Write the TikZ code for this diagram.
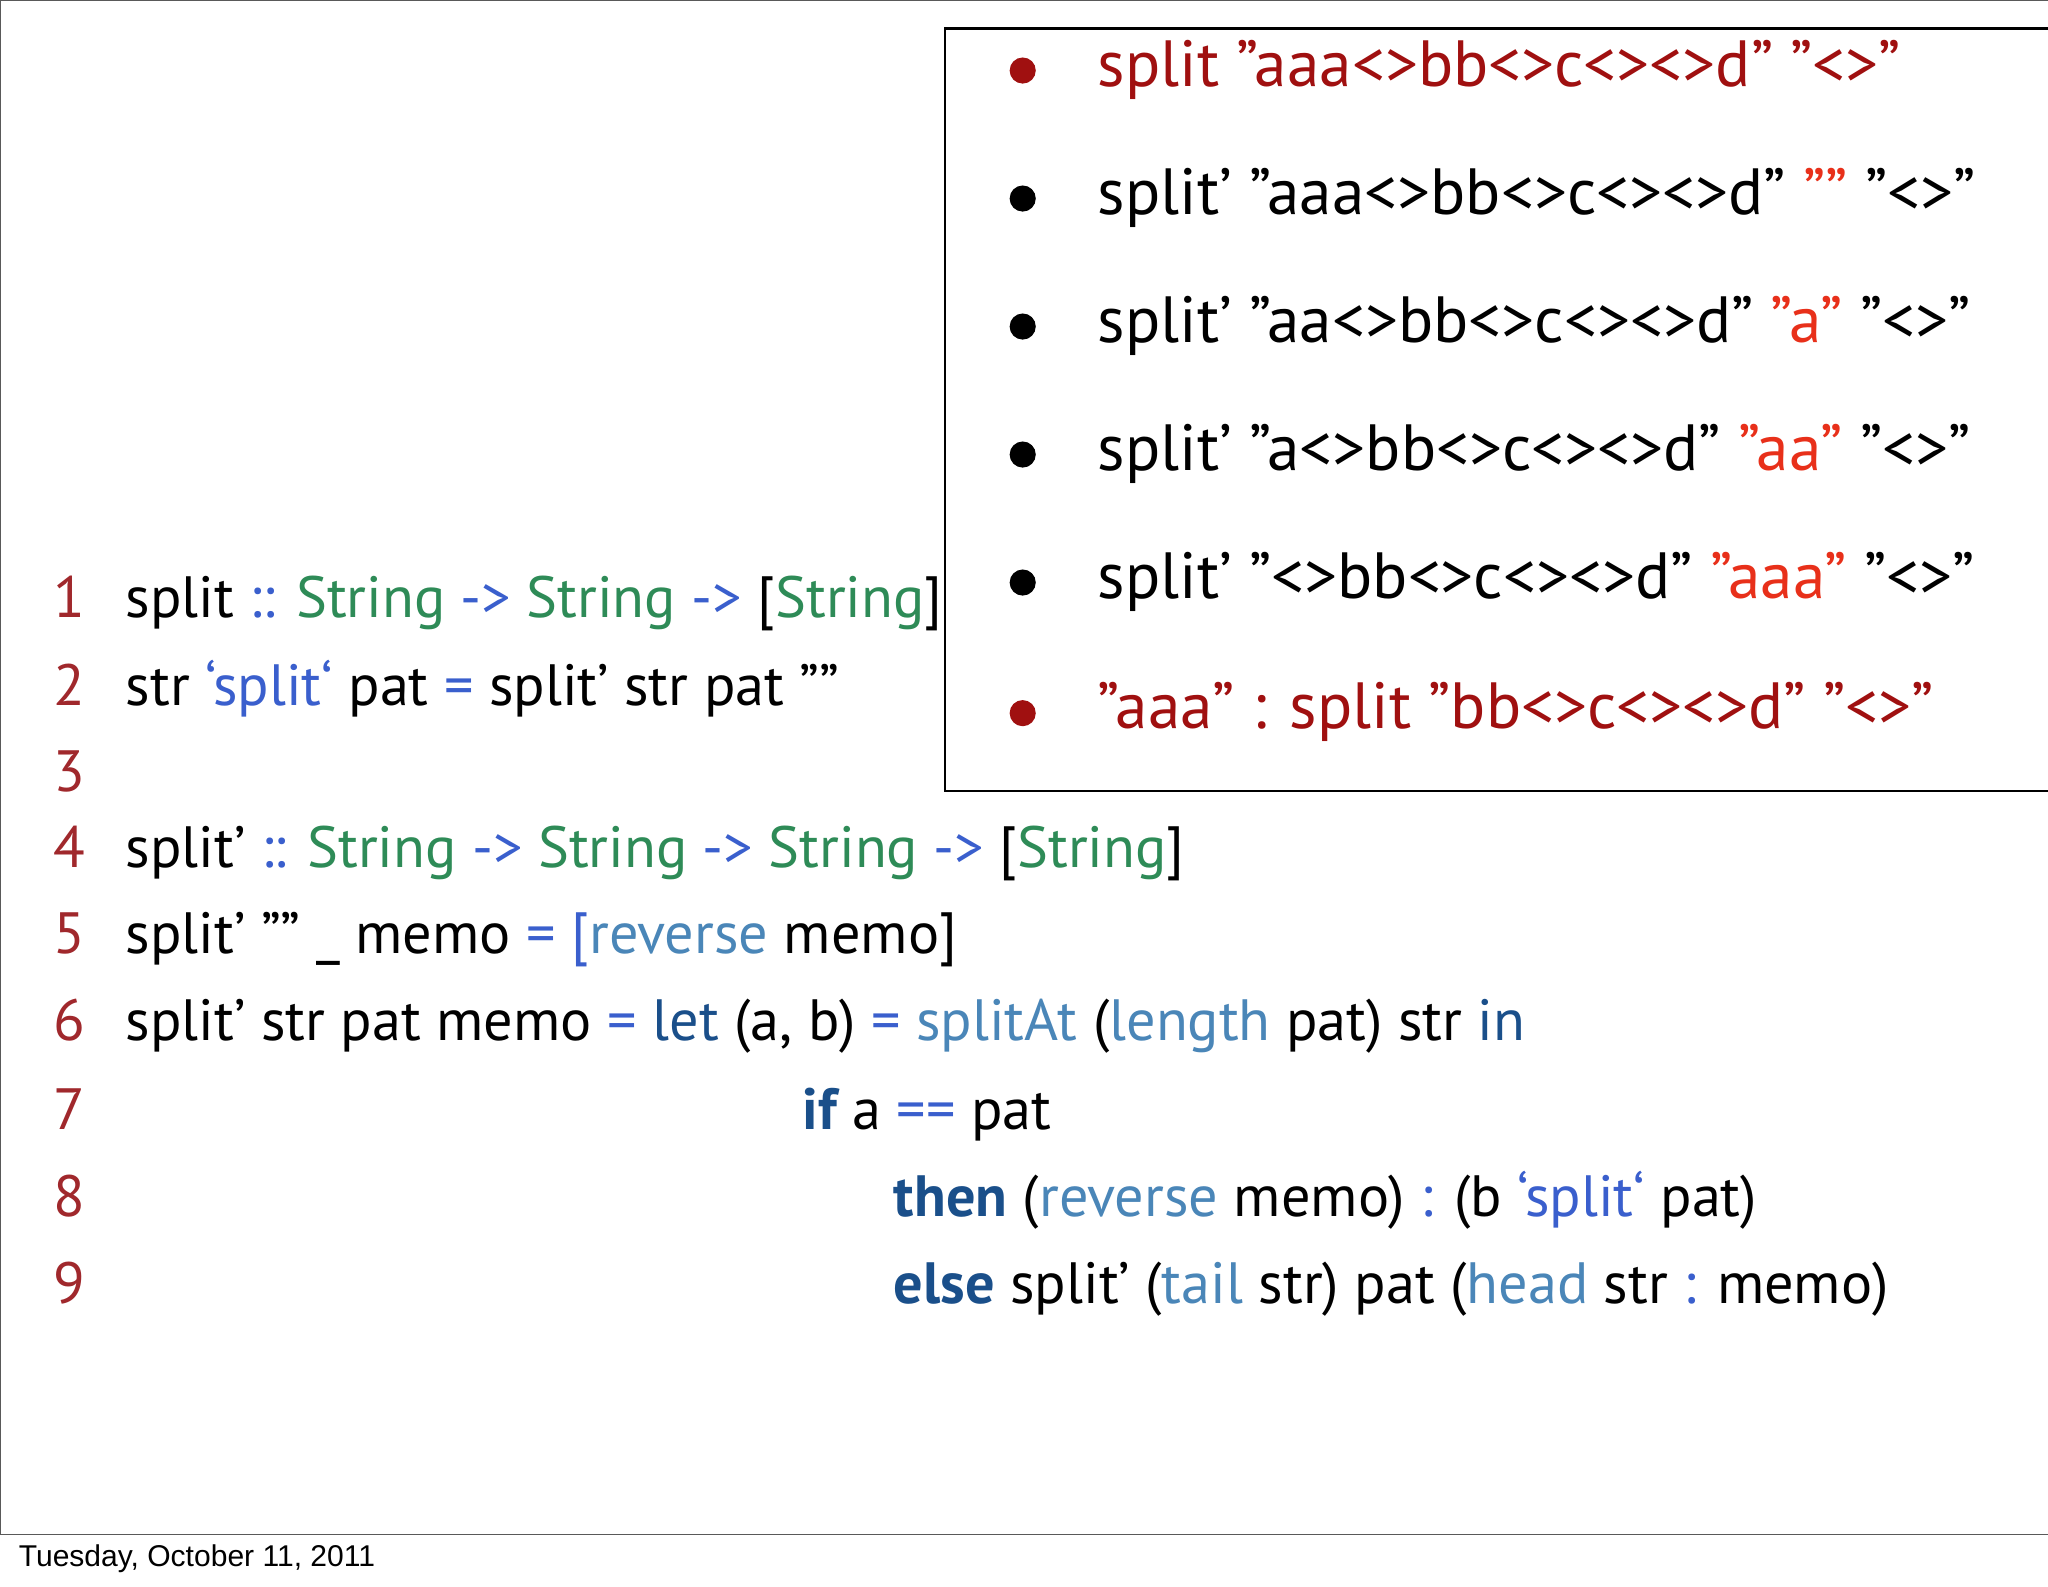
\documentclass[tikz,border=0pt]{standalone}
\usepackage{fontspec}
\setmainfont{PT Sans}[Ligatures=ResetAll]
\newfontfamily\foot{Liberation Sans}
\definecolor{ln}{HTML}{A0282C}
\definecolor{gr}{HTML}{2E8B57}
\definecolor{op}{HTML}{3A5FCD}
\definecolor{fn}{HTML}{4A86B8}
\definecolor{kw}{HTML}{1A4F8A}
\definecolor{dr}{HTML}{A01010}
\definecolor{rd}{HTML}{E8301A}
\newcommand{\G}[1]{\textcolor{gr}{#1}}
\newcommand{\Op}[1]{\textcolor{op}{#1}}
\newcommand{\F}[1]{\textcolor{fn}{#1}}
\newcommand{\K}[1]{\textcolor{kw}{#1}}
\newcommand{\KB}[1]{\textcolor{kw}{\bfseries #1}}
\newcommand{\R}[1]{\textcolor{rd}{#1}}
\newcommand{\q}{\char"0022\relax}
\newcommand{\ap}{\char"0027\relax}
\newcommand{\bq}{\char"0060\relax}
\begin{document}
\begin{tikzpicture}[x=0.5pt,y=-0.5pt,
  code/.style={anchor=mid west,inner sep=0pt,font=\fontsize{22.3}{26}\selectfont},
  num/.style={anchor=mid,inner sep=0pt,text=ln,font=\fontsize{22.3}{26}\selectfont},
  bl/.style={anchor=mid west,inner sep=0pt,font=\fontsize{25}{30}\selectfont},
  dot/.style={circle,fill,inner sep=0pt,minimum size=10pt}]
\useasboundingbox (0,0) rectangle (1568,1215);
\fill[white] (0,0) rectangle (1568,1215);
\draw[line width=0.6pt,gray!70!black] (0,1175) -- (0,0) -- (1568,0);
\draw[line width=0.6pt,gray!70!black] (0,1175) -- (1568,1175);
\node[anchor=mid west,inner sep=0pt,font=\foot\fontsize{11.5}{13}\selectfont] (foot) at (14,1194) {Tuesday, October 11, 2011};
\node[draw,line width=0.8pt,anchor=north west,minimum width=422.5pt,minimum height=292pt,inner sep=0pt] (box) at (723,21) {};
% bullets
\node[dot,dr] (d1) at (783,54) {};
\node[bl,text=dr] (b1) at (840,61) {split \q aaa<>bb<>c<><>d\q{} \q<>\q};
\node[dot] (d2) at (783,152) {};
\node[bl] (b2) at (840,159) {split\ap{} \q aaa<>bb<>c<><>d\q{} \R{\q\q} \q<>\q};
\node[dot] (d3) at (783,250) {};
\node[bl] (b3) at (840,257) {split\ap{} \q aa<>bb<>c<><>d\q{} \R{\q a\q} \q<>\q};
\node[dot] (d4) at (783,348) {};
\node[bl] (b4) at (840,355) {split\ap{} \q a<>bb<>c<><>d\q{} \R{\q aa\q} \q<>\q};
\node[dot] (d5) at (783,446) {};
\node[bl] (b5) at (840,453) {split\ap{} \q<>bb<>c<><>d\q{} \R{\q aaa\q} \q<>\q};
\node[dot,dr] (d6) at (783,546) {};
\node[bl,text=dr] (b6) at (840,553) {\q aaa\q{} : split \q bb<>c<><>d\q{} \q<>\q};
% line numbers
\foreach \n/\y in {1/468,2/535,3/601,4/659,5/725,6/792,7/860,8/926,9/993}
  \node[num] (n\n) at (53,\y) {\n};
\node[code] (c1) at (96,468) {split \Op{::} \G{String} \Op{->} \G{String} \Op{->} [\G{String}]};
\node[code] (c2) at (96,535) {str \Op{\bq split\bq} pat \Op{=} split\ap{} str pat \q\q};
\node[code] (c4) at (96,659) {split\ap{} \Op{::} \G{String} \Op{->} \G{String} \Op{->} \G{String} \Op{->} [\G{String}]};
\node[code] (c5) at (96,725) {split\ap{} \q\q{} \_ memo \Op{= [}\F{reverse} memo]};
\node[code] (c6) at (96,792) {split\ap{} str pat memo \Op{=} \K{let} (a, b) \Op{=} \F{splitAt} (\F{length} pat) str \K{in}};
\node[code] (c7) at (614,860) {\KB{if} a \Op{==} pat};
\node[code] (c8) at (684,926) {\KB{then} (\F{reverse} memo) \Op{:} (b \Op{\bq split\bq} pat)};
\node[code] (c9) at (684,993) {\KB{else} split\ap{} (\F{tail} str) pat (\F{head} str \Op{:} memo)};
\end{tikzpicture}
\end{document}
